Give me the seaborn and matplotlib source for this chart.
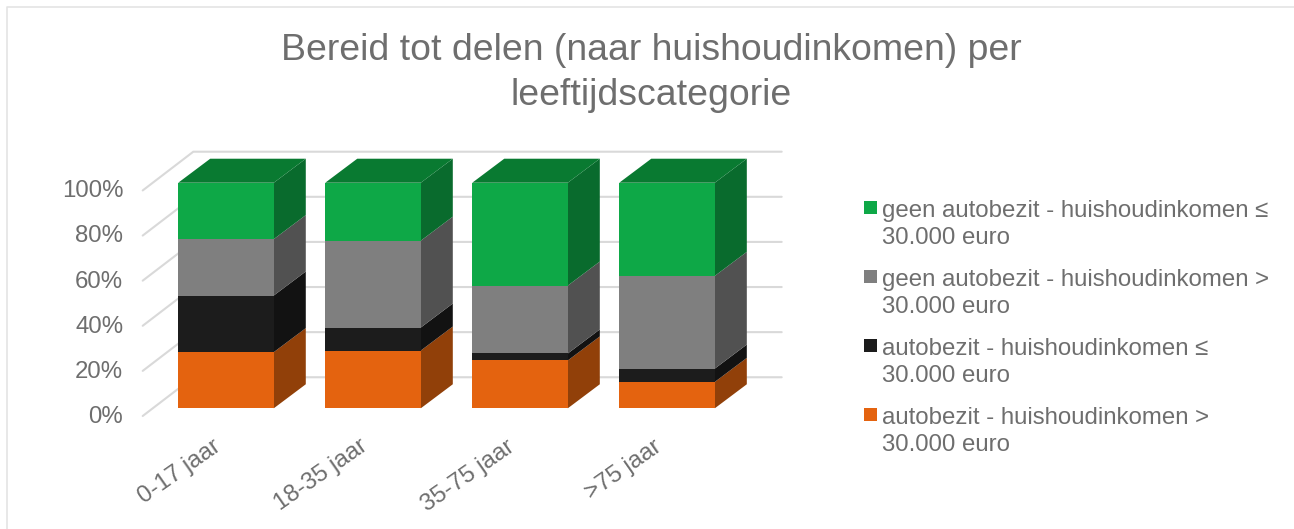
import matplotlib
matplotlib.use("Agg")
import matplotlib.pyplot as plt
import matplotlib.transforms as mtrans
import numpy as np
import seaborn as sns
from matplotlib.legend_handler import HandlerPatch
from matplotlib.lines import Line2D
from matplotlib.patches import Patch, Rectangle

categories = ["0-17 jaar", "18-35 jaar", "35-75 jaar", ">75 jaar"]
auto_hoog = [24.9, 25.6, 21.2, 11.7]
auto_laag = [25.1, 10.2, 3.1, 5.9]
geen_hoog = [25.0, 38.5, 30.1, 41.1]
geen_laag = [25.0, 25.7, 45.6, 41.3]
series_names = [
    "autobezit - huishoudinkomen >\n30.000 euro",
    "autobezit - huishoudinkomen ≤\n30.000 euro",
    "geen autobezit - huishoudinkomen >\n30.000 euro",
    "geen autobezit - huishoudinkomen ≤\n30.000 euro",
]
y_ticks = [0, 20, 40, 60, 80, 100]

front_colors = ["#E4630F", "#1C1C1C", "#7F7F7F", "#0EA847"]
side_colors = ["#914009", "#121212", "#515151", "#096B2D"]
top_color = "#097A31"
text_color = "#6E6E6E"
grid_color = "#D9D9D9"

W, H = 1294, 529
sns.set_theme(style="white")
plt.rcParams["font.family"] = ["Liberation Sans", "DejaVu Sans"]
fig = plt.figure(figsize=(W / 100, H / 100), dpi=100)

left, right, top, bottom = 142.7, 781.7, 151.7, 416.0
ax = fig.add_axes([left / W, 1 - bottom / H, (right - left) / W, (bottom - top) / H])

bar_w = 0.65
depth_x, depth_y = 0.2177, 10.65
front_shift = -3.42
back_shift = 13.76
x_front, x_back, x_end = -0.5667, -0.2224, 3.78

for v in y_ticks:
    ax.plot([x_front, x_back, x_end], [v + front_shift, v + back_shift, v + back_shift],
            color=grid_color, lw=1.5, zorder=1, solid_joinstyle="miter", clip_on=False)

series = [auto_hoog, auto_laag, geen_hoog, geen_laag]
base = np.zeros(len(categories))
for vals, fc, sc in zip(series, front_colors, side_colors):
    vals = np.array(vals)
    sns.barplot(x=categories, y=vals, bottom=base, color=fc, saturation=1,
                width=bar_w, ax=ax, zorder=3, linewidth=0)
    for i in range(len(categories)):
        xr = i + bar_w / 2
        y0, y1 = base[i], base[i] + vals[i]
        ax.fill([xr, xr + depth_x, xr + depth_x, xr],
                [y0, y0 + depth_y, y1 + depth_y, y1],
                color=sc, lw=0, zorder=2.5)
    base = base + vals

for i in range(len(categories)):
    xl, xr = i - bar_w / 2, i + bar_w / 2
    ax.fill([xl, xr, xr + depth_x, xl + depth_x],
            [base[i], base[i], base[i] + depth_y, base[i] + depth_y],
            color=top_color, lw=0, zorder=2.5)

ax.set_xlim(x_front, x_end)
ax.set_ylim(front_shift, 100 + back_shift)
ax.set_xlabel("")
ax.set_ylabel("")
for s in ax.spines.values():
    s.set_visible(False)
ax.grid(False)
ax.patch.set_alpha(0)

ax.set_yticks([v + front_shift + 0.7 for v in y_ticks])
ax.set_yticklabels([f"{v}%" for v in y_ticks], color=text_color, fontsize=17.3)
ax.tick_params(axis="y", length=0, pad=14)
ax.set_xticks(range(len(categories)))
ax.set_xticklabels(categories, rotation=35, ha="right", va="top", rotation_mode="anchor",
                   color=text_color, fontsize=17.3)
ax.tick_params(axis="x", length=0, pad=14)
shift = mtrans.ScaledTranslation(-0.14, 0, fig.dpi_scale_trans)
for lab in ax.get_xticklabels():
    lab.set_transform(lab.get_transform() + shift)

fig.suptitle("Bereid tot delen (naar huishoudinkomen) per\nleeftijdscategorie",
             x=651.5 / W, y=1 - 33 / H, ha="center", va="top",
             color=text_color, fontsize=26.9, linespacing=1.38)


class SquareHandler(HandlerPatch):
    def create_artists(self, legend, orig_handle, xdescent, ydescent, width, height,
                       fontsize, trans):
        side = 9.4
        return [Rectangle((0, 13.9), side, side, facecolor=orig_handle.get_facecolor(),
                          edgecolor="none", transform=trans)]


handles = [Patch(facecolor=c) for c in front_colors][::-1]
leg = fig.legend(handles, series_names[::-1], loc="upper left",
                 bbox_to_anchor=(864 / W, 1 - 200 / H), bbox_transform=fig.transFigure,
                 frameon=False, fontsize=17.3, labelcolor=text_color,
                 handler_map={Patch: SquareHandler()}, handlelength=0.7, handletextpad=0.05,
                 labelspacing=0.82, borderpad=0, borderaxespad=0)
for t in leg.get_texts():
    t.set_linespacing(1.31)

fig.add_artist(Line2D([7 / W, 7 / W, 1], [0, 1 - 6.5 / H, 1 - 6.5 / H],
                      color="#E4E4E4", lw=1.2, transform=fig.transFigure))

fig.savefig("out.png", dpi=100)
